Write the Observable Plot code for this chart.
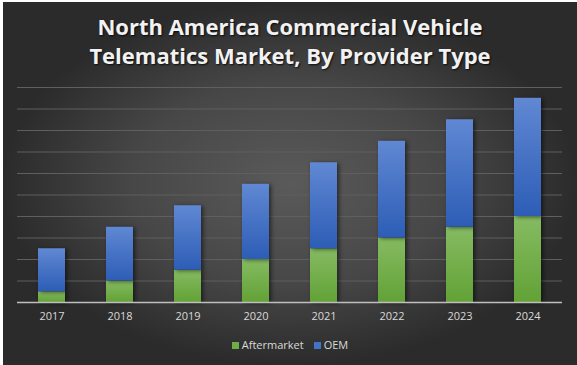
<!DOCTYPE html>
<html>
<head>
<meta charset="utf-8">
<script src="https://cdn.jsdelivr.net/npm/d3@7"></script>
<script src="https://cdn.jsdelivr.net/npm/@observablehq/plot@0.6"></script>
<style>
  html, body { margin: 0; padding: 0; background: #ffffff; }
  #chart {
    position: absolute; left: 3px; top: 2px; width: 574px; height: 363px; overflow: hidden;
    background: radial-gradient(ellipse closest-side at 50% 50%, #5a5a5a 0%, #474747 55%, #2b2b2b 100%);
    font-family: "Open Sans", sans-serif;
  }
  #title {
    position: absolute; left: 0; top: 10px; width: 574px; text-align: center;
    color: #f2f2f2; font-weight: bold; font-size: 22px; line-height: 29px;
    text-shadow: 1px 1px 2px rgba(0,0,0,0.8);
  }
  #plot { position: absolute; left: 0; top: 75px; }
  #legend {
    position: absolute; left: 0; top: 335px; width: 574px; text-align: center;
    color: #d9d9d9; font-size: 11px; line-height: 16px;
  }
  #legend span.sw { display: inline-block; width: 7px; height: 7px; margin-right: 3px; vertical-align: 0px; }
  #legend span.item { margin: 0 5px; }
</style>
</head>
<body>
<div id="chart">
  <div id="title">North America Commercial Vehicle<br>Telematics Market, By Provider Type</div>
  <div id="plot"></div>
  <div id="legend"></div>
</div>
<script>
const years = ["2017", "2018", "2019", "2020", "2021", "2022", "2023", "2024"];
const aftermarket = [0.5, 1.0, 1.5, 2.0, 2.5, 3.0, 3.5, 4.0];
const oem = [2.0, 2.5, 3.0, 3.5, 4.0, 4.5, 5.0, 5.5];
const seriesNames = ["Aftermarket", "OEM"];
const seriesColors = ["#70ad47", "#4472c4"];
const yTicks = [0, 1, 2, 3, 4, 5, 6, 7, 8, 9, 10];

const rows = years.map((y, i) => ({year: y, after: aftermarket[i], oem: oem[i], total: aftermarket[i] + oem[i]}));

const plot = Plot.plot({
  width: 574,
  height: 250,
  marginLeft: 14,
  marginRight: 15,
  marginTop: 10,
  marginBottom: 25,
  style: {background: "transparent", color: "#d9d9d9", fontSize: "11px", fontFamily: "Open Sans, sans-serif"},
  x: {domain: years, label: null, paddingInner: 0.6, paddingOuter: 0.3, tickSize: 0, tickPadding: 10},
  y: {domain: [0, 10], axis: null},
  marks: [
    Plot.ruleY(yTicks.slice(1), {stroke: "#5f5f5f", strokeWidth: 1}),
    Plot.barY(rows, {x: "year", y1: 0, y2: "after", fill: "url(#gGreen)", className: "bars"}),
    Plot.barY(rows, {x: "year", y1: "after", y2: "total", fill: "url(#gBlue)", className: "bars"}),
    Plot.ruleY([0], {stroke: "#bfbfbf", strokeWidth: 1.3})
  ]
});

const ns = "http://www.w3.org/2000/svg";
const defs = document.createElementNS(ns, "defs");
defs.innerHTML = `
  <linearGradient id="gGreen" x1="0" y1="0" x2="0" y2="1">
    <stop offset="0" stop-color="#86bb62"/>
    <stop offset="1" stop-color="#62a236"/>
  </linearGradient>
  <linearGradient id="gBlue" x1="0" y1="0" x2="0" y2="1">
    <stop offset="0" stop-color="#6088d3"/>
    <stop offset="1" stop-color="#2d5db6"/>
  </linearGradient>`;
plot.insertBefore(defs, plot.firstChild);
plot.querySelectorAll("g.bars, g[class*='bars']").forEach(g => g.style.filter = "drop-shadow(2px 1px 2px rgba(0,0,0,0.55))");
document.getElementById("plot").appendChild(plot);

const legend = document.getElementById("legend");
legend.innerHTML = seriesNames.map((n, i) =>
  `<span class="item"><span class="sw" style="background:${seriesColors[i]}"></span>${n}</span>`).join("");
</script>
</body>
</html>
